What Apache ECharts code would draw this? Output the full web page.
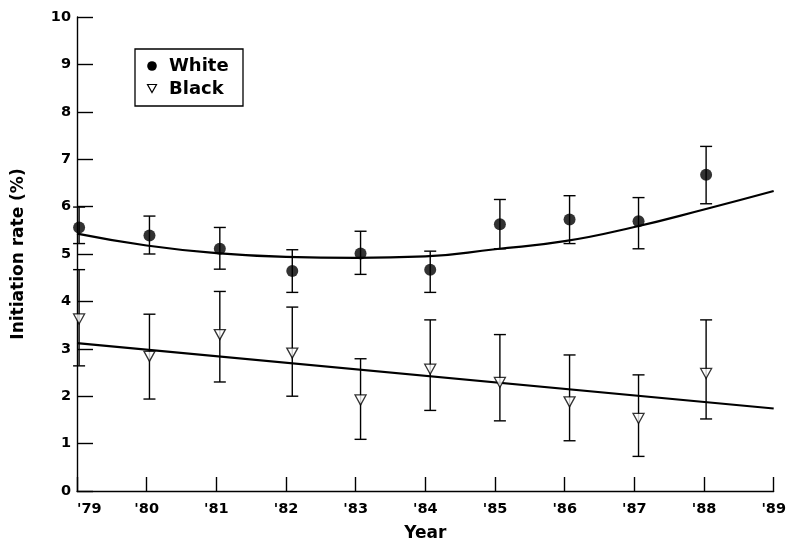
<!DOCTYPE html>
<html>
<head>
<meta charset="utf-8">
<script src="https://cdn.jsdelivr.net/npm/echarts@6/dist/echarts.min.js"></script>
<style>
html,body{margin:0;padding:0;background:#fff;}
#chart{width:789px;height:547px;}
</style>
</head>
<body>
<div id="chart"></div>
<script>
const obsYears = [1979.03, 1980.04, 1981.05, 1982.09, 1983.07, 1984.07, 1985.07, 1986.07, 1987.06, 1988.03];

// White series
const whiteRate = [5.56, 5.39, 5.11, 4.64, 5.01, 4.67, 5.63, 5.73, 5.69, 6.67];
const whiteLow  = [5.22, 5.00, 4.68, 4.19, 4.57, 4.19, 5.11, 5.22, 5.11, 6.06];
const whiteHigh = [5.99, 5.80, 5.56, 5.09, 5.48, 5.06, 6.15, 6.23, 6.19, 7.27];

// Black series
const blackRate = [3.63, 2.84, 3.30, 2.91, 1.92, 2.57, 2.29, 1.88, 1.53, 2.48];
const blackLow  = [2.64, 1.94, 2.30, 2.00, 1.09, 1.70, 1.48, 1.06, 0.73, 1.52];
const blackHigh = [4.67, 3.73, 4.21, 3.88, 2.79, 3.61, 3.30, 2.87, 2.45, 3.61];

// Fitted curves
const fitYears = [1979, 1980, 1981, 1982, 1983, 1984, 1985, 1986, 1987, 1988, 1989];
const whiteFit = [5.43, 5.18, 5.02, 4.94, 4.92, 4.95, 5.10, 5.27, 5.57, 5.94, 6.33];
const blackFitYears = [1979, 1989];
const blackFit = [3.12, 1.74];

// Axis ticks
const xTicks = ["'79", "'80", "'81", "'82", "'83", "'84", "'85", "'86", "'87", "'88", "'89"];

const FONT = 'DejaVu Sans';
const zip = (a, b) => a.map((v, i) => [v, b[i]]);
const errData = (xs, lo, hi) => xs.map((x, i) => [x, lo[i], hi[i]]);

function errorBar(params, api) {
  const x = api.value(0);
  const lo = api.coord([x, api.value(1)]);
  const hi = api.coord([x, api.value(2)]);
  const w = 6;
  const style = { stroke: '#000', lineWidth: 1.4, fill: null };
  return {
    type: 'group',
    children: [
      { type: 'line', shape: { x1: lo[0], y1: lo[1], x2: hi[0], y2: hi[1] }, style },
      { type: 'line', shape: { x1: lo[0] - w, y1: lo[1], x2: lo[0] + w, y2: lo[1] }, style },
      { type: 'line', shape: { x1: hi[0] - w, y1: hi[1], x2: hi[0] + w, y2: hi[1] }, style }
    ]
  };
}

const triDown = 'path://M0,0L10,0L5,9Z';

const chart = echarts.init(document.getElementById('chart'), null, { renderer: 'canvas' });
chart.setOption({
  animation: false,
  backgroundColor: '#fff',
  textStyle: { fontFamily: FONT, color: '#000' },
  grid: { left: 77, right: 10, top: 17, bottom: 56 },
  xAxis: {
    type: 'value', min: 1979, max: 1989, interval: 1,
    name: 'Year', nameLocation: 'middle', nameGap: 34,
    nameTextStyle: { fontFamily: FONT, fontSize: 17, fontWeight: 'bold', color: '#000' },
    axisLine: { lineStyle: { color: '#000', width: 1.4 } },
    axisTick: { inside: true, length: 14, lineStyle: { color: '#000', width: 1.4 } },
    axisLabel: {
      fontFamily: FONT, fontSize: 14.5, fontWeight: 'bold', color: '#000', margin: 11,
      alignMinLabel: 'left',
      formatter: v => xTicks[Math.round(v - 1979)]
    },
    splitLine: { show: false }
  },
  yAxis: {
    type: 'value', min: 0, max: 10, interval: 1,
    name: 'Initiation rate (%)', nameLocation: 'middle', nameGap: 50, nameRotate: 90,
    nameTextStyle: { fontFamily: FONT, fontSize: 17, fontWeight: 'bold', color: '#000' },
    axisLine: { show: true, lineStyle: { color: '#000', width: 1.4 } },
    axisTick: { show: true, inside: true, length: 16, lineStyle: { color: '#000', width: 1.4 } },
    axisLabel: { fontFamily: FONT, fontSize: 14.5, fontWeight: 'bold', color: '#000', margin: 6 },
    splitLine: { show: false }
  },
  series: [
    {
      name: 'White fit', type: 'line', smooth: true, showSymbol: false, symbol: 'none',
      data: zip(fitYears, whiteFit), lineStyle: { color: '#000', width: 2.2 }, z: 2
    },
    {
      name: 'Black fit', type: 'line', showSymbol: false, symbol: 'none',
      data: zip(blackFitYears, blackFit), lineStyle: { color: '#000', width: 2.2 }, z: 2
    },
    { name: 'White SE', type: 'custom', renderItem: errorBar, data: errData(obsYears, whiteLow, whiteHigh), z: 3 },
    { name: 'Black SE', type: 'custom', renderItem: errorBar, data: errData(obsYears, blackLow, blackHigh), z: 3 },
    {
      name: 'White', type: 'scatter', symbol: 'circle', symbolSize: 12,
      itemStyle: { color: '#000' }, data: zip(obsYears, whiteRate), z: 5
    },
    {
      name: 'Black', type: 'scatter', symbol: triDown, symbolSize: [11, 10],
      itemStyle: { color: '#fff', borderColor: '#000', borderWidth: 1.3 },
      data: zip(obsYears, blackRate), z: 5
    }
  ],
  graphic: [
    { type: 'rect', shape: { x: 135, y: 49, width: 108, height: 57 }, style: { fill: '#fff', stroke: '#000', lineWidth: 1.3 }, z: 10 },
    { type: 'circle', shape: { cx: 152, cy: 66, r: 4.8 }, style: { fill: '#000' }, z: 11 },
    { type: 'polygon', shape: { points: [[147.5, 84.5], [156.5, 84.5], [152, 92.5]] }, style: { fill: '#fff', stroke: '#000', lineWidth: 1.2 }, z: 11 },
    { type: 'text', x: 169, y: 66, style: { text: 'White', font: 'bold 18px "DejaVu Sans"', fill: '#000', verticalAlign: 'middle' }, z: 11 },
    { type: 'text', x: 169, y: 89, style: { text: 'Black', font: 'bold 18px "DejaVu Sans"', fill: '#000', verticalAlign: 'middle' }, z: 11 }
  ]
});
</script>
</body>
</html>
